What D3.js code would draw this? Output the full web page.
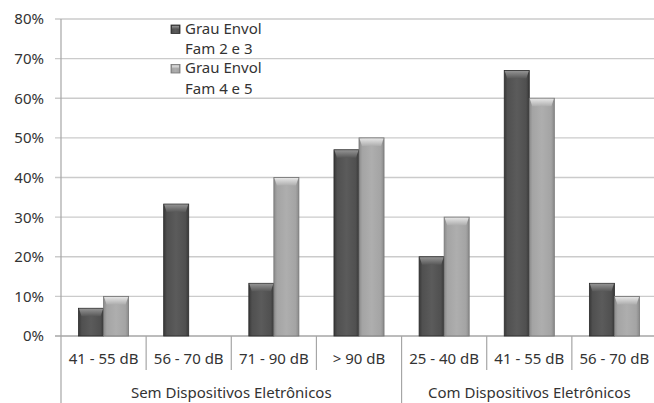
<!DOCTYPE html>
<html><head><meta charset="utf-8">
<script src="https://cdn.jsdelivr.net/npm/d3@7"></script>
<style>body{margin:0;background:#fff}svg{display:block}text{font-family:"Noto Sans",sans-serif;fill:#333}</style>
</head><body>
<svg id="c" width="654" height="403"></svg>
<script>
const categories = ["41 - 55 dB","56 - 70 dB","71 - 90 dB","> 90 dB","25 - 40 dB","41 - 55 dB","56 - 70 dB"];
const groups = ["Sem Dispositivos Eletrônicos","Com Dispositivos Eletrônicos"];
const groupSizes = [4,3];
const seriesNames = ["Grau Envol|Fam 2 e 3","Grau Envol|Fam 4 e 5"];
const series1 = [7,33.3,13.3,47,20,67,13.3];
const series2 = [10,0,40,50,30,60,10];
const yTicks = [0,10,20,30,40,50,60,70,80];

(function(){
const svg = d3.select("#c");
const pL=61, pR=657, pT=19, pB=336;
const x = d3.scaleBand().domain(categories.map((c,i)=>i)).range([pL,pR]).padding(0);
const xs = d3.scaleBand().domain([0,1]).range([0,x.bandwidth()]).paddingInner(0).paddingOuter(0.7);
const y = d3.scaleLinear().domain([0,80]).range([pB,pT]);

const defs = svg.append("defs");
const pal = [
  {edge:"#383838",side:"#505050",mid:"#5b5b5b",bt:"#939393",bb:"#585858",stroke:"#2a2a2a"},
  {edge:"#8a8a8a",side:"#a4a4a4",mid:"#aeaeae",bt:"#e6e6e6",bb:"#aeaeae",stroke:"#767676"}
];
pal.forEach((p,i)=>{
  const g=defs.append("linearGradient").attr("id","h"+i).attr("x1","0").attr("x2","1").attr("y1","0").attr("y2","0");
  [[0,p.edge],[0.13,p.side],[0.5,p.mid],[0.87,p.side],[1,p.edge]].forEach(s=>g.append("stop").attr("offset",s[0]).attr("stop-color",s[1]));
  const v=defs.append("linearGradient").attr("id","v"+i).attr("x1","0").attr("x2","0").attr("y1","0").attr("y2","1");
  [[0,p.bt],[1,p.bb]].forEach(s=>v.append("stop").attr("offset",s[0]).attr("stop-color",s[1]));
});

svg.append("g").selectAll("line").data(yTicks).join("line")
  .attr("x1",pL-6).attr("x2",654).attr("y1",d=>y(d)).attr("y2",d=>y(d))
  .attr("stroke",d=>d===0?"#a6a6a6":"#cbcbcb").attr("stroke-width",1.3);

svg.append("g").selectAll("text").data(yTicks).join("text")
  .attr("x",44).attr("y",d=>y(d)).attr("dy","0.36em").attr("text-anchor","end")
  .style("font-size","15px").text(d=>d+"%");

svg.append("line").attr("x1",pL).attr("x2",pL).attr("y1",pT).attr("y2",403).attr("stroke","#a6a6a6").attr("stroke-width",1.2);

const bounds=[];
for(let i=1;i<categories.length;i++) bounds.push(i);
let cum=0; const groupBounds=[0];
groupSizes.forEach(s=>{cum+=s;groupBounds.push(cum);});
svg.append("g").selectAll("line").data(bounds).join("line")
  .attr("x1",d=>x(d)).attr("x2",d=>x(d)).attr("y1",pB).attr("y2",d=>groupBounds.includes(d)?403:370)
  .attr("stroke","#a6a6a6").attr("stroke-width",1.2);

svg.append("g").selectAll("text").data(categories).join("text")
  .attr("x",(d,i)=>x(i)+x.bandwidth()/2).attr("y",359).attr("dy","0.36em").attr("text-anchor","middle")
  .style("font-size","15px").text(d=>d);

svg.append("g").selectAll("text").data(groups).join("text")
  .attr("x",(d,i)=>(x(groupBounds[i]) + (groupBounds[i+1]<categories.length?x(groupBounds[i+1]):pR))/2)
  .attr("y",393).attr("dy","0.36em").attr("text-anchor","middle")
  .style("font-size","15px").text(d=>d);

const data=[];
[series1,series2].forEach((s,si)=>s.forEach((v,ci)=>{ if(v>0) data.push({si,ci,v}); }));
const bars=svg.append("g").selectAll("g").data(data).join("g");
bars.each(function(d){
  const g=d3.select(this);
  const x0=x(d.ci)+xs(d.si), w=xs.bandwidth(), y0=y(d.v), h=y(0)-y(d.v);
  g.append("rect").attr("x",x0).attr("y",y0).attr("width",w).attr("height",h)
    .attr("fill",`url(#h${d.si})`).attr("stroke",pal[d.si].stroke).attr("stroke-width",0.8);
  const bh=Math.min(8,h), bi=3;
  g.append("polygon").attr("points",[[x0+0.5,y0+0.5],[x0+w-0.5,y0+0.5],[x0+w-bi,y0+bh],[x0+bi,y0+bh]].map(p=>p.join(",")).join(" "))
    .attr("fill",`url(#v${d.si})`);
});

const leg=svg.append("g");
seriesNames.forEach((n,i)=>{
  const yy=25+i*39.5;
  leg.append("rect").attr("x",171).attr("y",yy).attr("width",9).attr("height",8.5)
    .attr("fill",`url(#h${i})`).attr("stroke",pal[i].stroke).attr("stroke-width",0.8);
  leg.append("rect").attr("x",172).attr("y",yy+1).attr("width",7).attr("height",3).attr("fill",`url(#v${i})`);
  n.split("|").forEach((t,j)=>{
    leg.append("text").attr("x",185).attr("y",yy+8.5+j*20.5).style("font-size","15px").text(t);
  });
});
})();
</script>
</body></html>
